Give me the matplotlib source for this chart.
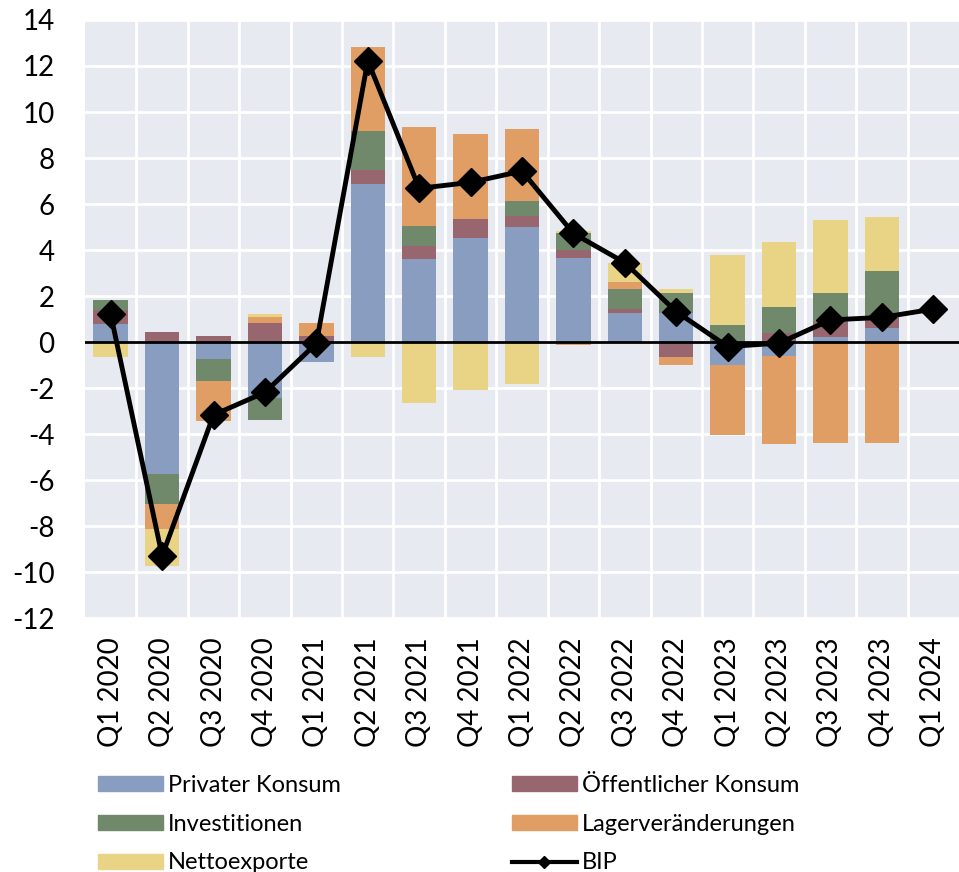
import matplotlib
matplotlib.use("agg")
import matplotlib.pyplot as plt
import numpy as np
from matplotlib.lines import Line2D
from matplotlib.patches import Patch

plt.rcParams['font.family'] = ['Lato', 'DejaVu Sans']
plt.rcParams['axes.unicode_minus'] = False

quarters = ['Q1 2020', 'Q2 2020', 'Q3 2020', 'Q4 2020', 'Q1 2021', 'Q2 2021',
            'Q3 2021', 'Q4 2021', 'Q1 2022', 'Q2 2022', 'Q3 2022', 'Q4 2022',
            'Q1 2023', 'Q2 2023', 'Q3 2023', 'Q4 2023', 'Q1 2024']

privat = [0.77, -5.73, -0.75, -2.45, -0.88, 6.86, 3.59, 4.54, 5.00, 3.64, 1.25, 1.26,
          -1.00, -0.61, 0.23, 0.61, 0]
oeffentlich = [0.60, 0.42, 0.28, 0.83, 0.28, 0.64, 0.58, 0.81, 0.48, 0.35, 0.17, -0.65,
               0.0, 0.38, 0.64, 0.46, 0]
invest = [0.47, -1.30, -0.95, -0.94, 0.0, 1.67, 0.89, 0.0, 0.65, 0.75, 0.88, 0.88,
          0.75, 1.14, 1.25, 2.02, 0]
lager = [0.0, -1.09, -1.75, 0.26, 0.53, 3.64, 4.27, 3.68, 3.14, -0.15, 0.31, -0.34,
         -3.03, -3.81, -4.38, -4.38, 0]
netto = [-0.65, -1.62, 0.0, 0.13, 0.0, -0.65, -2.67, -2.09, -1.83, 0.10, 0.84, 0.15,
         3.03, 2.83, 3.18, 2.34, 0]
bip = [1.2, -9.3, -3.17, -2.19, -0.06, 12.23, 6.68, 6.94, 7.43, 4.72, 3.45, 1.32,
       -0.2, -0.05, 0.96, 1.07, 1.43]

names = ['Privater Konsum', 'Öffentlicher Konsum', 'Investitionen',
         'Lagerveränderungen', 'Nettoexporte']
colors = ['#889dc0', '#98666f', '#71896b', '#e09e64', '#e9d485']
series = [privat, oeffentlich, invest, lager, netto]

fig = plt.figure(figsize=(9.59, 8.72), dpi=100)
ax = fig.add_axes([85 / 959, 1 - 618 / 872, 874 / 959, 598 / 872])
ax.set_facecolor('#e8eaf1')

x = np.arange(len(quarters))
pos = np.zeros(len(quarters))
neg = np.zeros(len(quarters))
for vals, c in zip(series, colors):
    v = np.array(vals)
    bottom = np.where(v >= 0, pos, neg)
    ax.bar(x, v, 0.67, bottom=bottom, color=c, zorder=2)
    pos += np.where(v >= 0, v, 0)
    neg += np.where(v < 0, v, 0)

ax.axhline(0, color='black', lw=2, zorder=3)
ax.plot(x, bip, color='black', lw=3.5, marker='D', markersize=14, zorder=4)

ax.set_xlim(-0.5, len(quarters) - 0.5)
ax.set_ylim(-12, 14)
ax.set_yticks(range(-12, 15, 2))
ax.set_xticks(x)
ax.set_xticklabels(quarters, rotation=90)
ax.set_xticks(x[:-1] + 0.5, minor=True)
ax.tick_params(axis='both', which='both', length=0, labelsize=20)
ax.tick_params(axis='x', pad=14)
ax.tick_params(axis='y', pad=22)
ax.grid(True, which='minor', axis='x', color='white', lw=2, zorder=0)
ax.grid(True, which='major', axis='y', color='white', lw=2, zorder=0)
ax.set_axisbelow(True)
for s in ax.spines.values():
    s.set_visible(False)

handles = [Patch(color=colors[0], label=names[0]),
           Patch(color=colors[2], label=names[2]),
           Patch(color=colors[4], label=names[4]),
           Patch(color=colors[1], label=names[1]),
           Patch(color=colors[3], label=names[3]),
           Line2D([], [], color='black', lw=3, marker='D', markersize=6, label='BIP')]
fig.legend(handles=handles, ncol=2, loc='lower left', bbox_to_anchor=(77 / 959, -0.026),
           frameon=False, fontsize=17, handlelength=2.75, handleheight=0.6,
           handletextpad=0.2, columnspacing=7.25, labelspacing=0.75)

fig.savefig('out.png', dpi=100)
